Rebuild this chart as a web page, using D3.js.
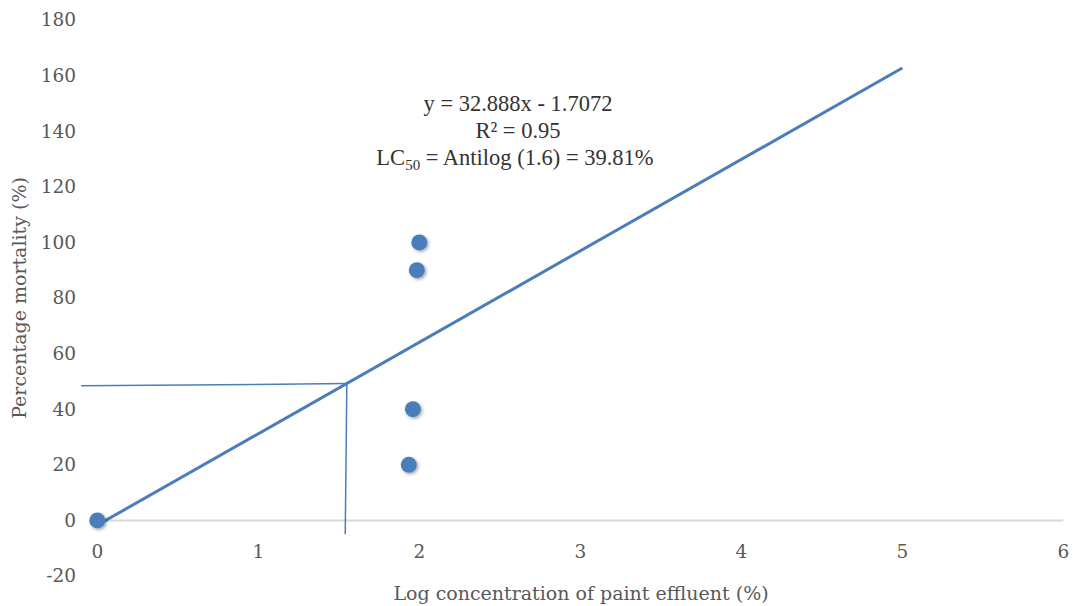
<!DOCTYPE html>
<html>
<head>
<meta charset="utf-8">
<script src="https://cdn.jsdelivr.net/npm/d3@7"></script>
<style>
  body { margin: 0; background: #fff; }
  text { fill: #595959; }
</style>
</head>
<body>
<svg id="chart"></svg>
<script>
// data
var logConc = [0, 1.935, 1.96, 1.985, 2.0];
var mortality = [0, 20, 40, 90, 100];
var slope = 32.888, intercept = -1.7072;
var trendX = [0, 5];
var xTicks = [0, 1, 2, 3, 4, 5, 6];
var yTicks = [-20, 0, 20, 40, 60, 80, 100, 120, 140, 160, 180];
// LC50 guide lines
var guideH = [[-0.1, 48.4], [1.55, 49.2]];
var guideV = [[1.55, 49.2], [1.54, -5]];
var annotation = ["y = 32.888x - 1.7072", "R² = 0.95"];

var svgWidth = 1073, svgHeight = 606;
var blue = "#4a7ebb";

var svg = d3.select('#chart')
	.attr("width", svgWidth)
	.attr("height", svgHeight);

var xScale = d3.scaleLinear().domain([0, 6]).range([97.3, 1063.3]);
var yScale = d3.scaleLinear().domain([-20, 180]).range([576, 20]);

var defs = svg.append("defs");
var f = defs.append("filter").attr("id", "shadow")
	.attr("x", "-50%").attr("y", "-50%").attr("width", "200%").attr("height", "200%");
f.append("feDropShadow").attr("dx", 1.5).attr("dy", 1.5).attr("stdDeviation", 1.5)
	.attr("flood-color", "#000").attr("flood-opacity", 0.35);

// x axis line at y = 0
svg.append("line")
	.attr("x1", xScale(0)).attr("x2", xScale(6))
	.attr("y1", yScale(0)).attr("y2", yScale(0))
	.attr("stroke", "#d9d9d9").attr("stroke-width", 2);

// tick labels
svg.selectAll(".ylab").data(yTicks).enter().append("text")
	.attr("class", "ylab")
	.attr("x", 76).attr("y", function(d){ return yScale(d); })
	.attr("dy", "0.35em").attr("text-anchor", "end")
	.style("font-family", "DejaVu Serif").style("font-size", "18.5px")
	.text(function(d){ return d; });

svg.selectAll(".xlab").data(xTicks).enter().append("text")
	.attr("class", "xlab")
	.attr("x", function(d){ return xScale(d); }).attr("y", 558)
	.attr("text-anchor", "middle")
	.style("font-family", "DejaVu Serif").style("font-size", "18.5px")
	.text(function(d){ return d; });

// axis titles
svg.append("text")
	.attr("x", 581).attr("y", 600).attr("text-anchor", "middle")
	.style("font-family", "DejaVu Serif").style("font-size", "19px")
	.text("Log concentration of paint effluent (%)");

svg.append("text")
	.attr("transform", "translate(26,298) rotate(-90)")
	.attr("text-anchor", "middle")
	.style("font-family", "DejaVu Serif").style("font-size", "19px")
	.text("Percentage mortality (%)");

// guide lines for LC50
var line = d3.line().x(function(d){ return xScale(d[0]); }).y(function(d){ return yScale(d[1]); });
svg.append("path").attr("d", line(guideH)).attr("fill", "none").attr("stroke", blue).attr("stroke-width", 1.5);
svg.append("path").attr("d", line(guideV)).attr("fill", "none").attr("stroke", blue).attr("stroke-width", 1.5);

// trendline
svg.append("path")
	.attr("d", line(trendX.map(function(x){ return [x, slope * x + intercept]; })))
	.attr("fill", "none").attr("stroke", blue).attr("stroke-width", 3);

// points
svg.selectAll(".pt").data(logConc).enter().append("circle")
	.attr("class", "pt")
	.attr("cx", function(d){ return xScale(d); })
	.attr("cy", function(d, i){ return yScale(mortality[i]); })
	.attr("r", 8)
	.attr("fill", blue)
	.attr("filter", "url(#shadow)");

// annotation
var ann = svg.append("g").style("font-family", "Liberation Serif").style("font-size", "22.5px");
ann.selectAll(".ann").data(annotation).enter().append("text")
	.attr("x", 518).attr("y", function(d, i){ return 111 + i * 27; })
	.attr("text-anchor", "middle").style("fill", "#333")
	.text(function(d){ return d; });
var lc = ann.append("text").attr("x", 515).attr("y", 165).attr("text-anchor", "middle").style("fill", "#333");
lc.append("tspan").text("LC");
lc.append("tspan").attr("dy", 5).style("font-size", "15px").text("50");
lc.append("tspan").attr("dy", -5).text(" = Antilog (1.6) = 39.81%");
</script>
</body>
</html>
